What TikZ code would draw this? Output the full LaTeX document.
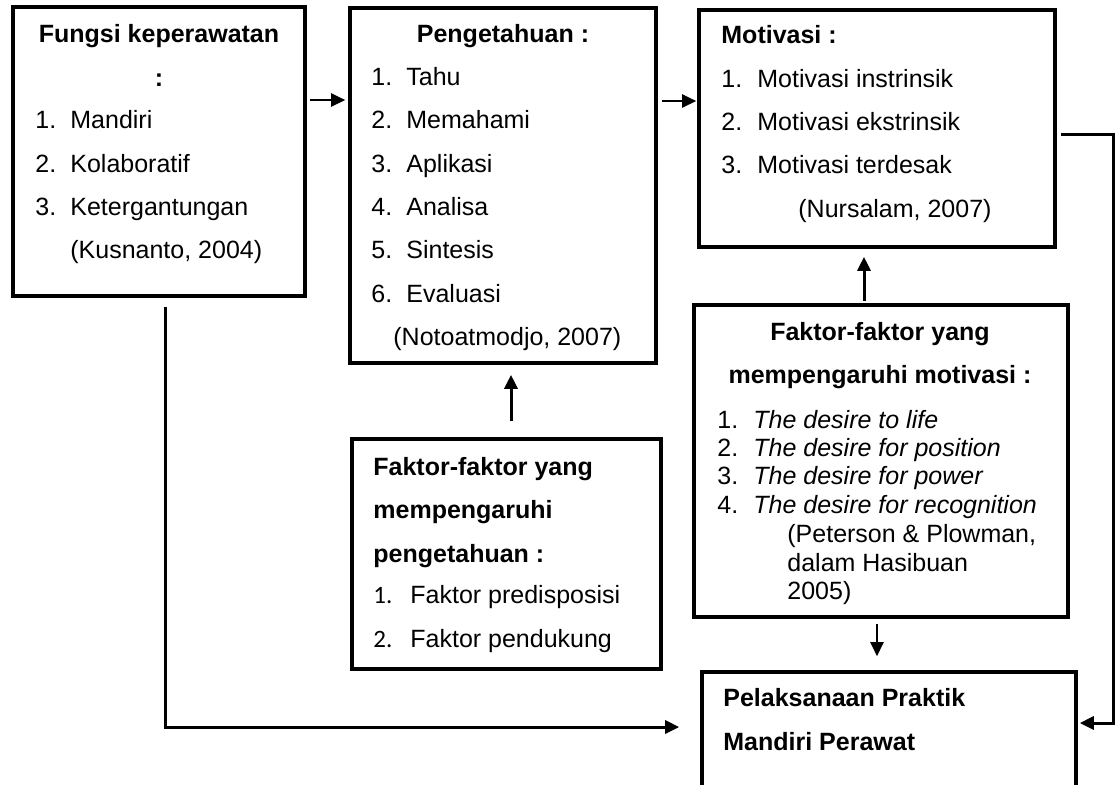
\documentclass[tikz,border=0pt]{standalone}
\usepackage{fontspec}
\setmainfont{Liberation Sans}
\newfontfamily\calfont{Carlito}
\usetikzlibrary{arrows.meta,fit}
\begin{document}
\begin{tikzpicture}[x=0.5pt,y=-0.5pt,
  box/.style={draw,line width=1.8pt,inner sep=0pt},
  arr/.style={line width=1.5pt,-{Triangle[length=7pt,width=6.5pt]}},
  tarr/.style={line width=1.2pt,-{Triangle[length=7pt,width=6.5pt]}},
  txt/.style={inner sep=0pt,anchor=base west,font=\fontsize{12.5pt}{15pt}\selectfont},
  btxt/.style={txt,font=\fontsize{12.5pt}{15pt}\selectfont\bfseries},
  ctxt/.style={inner sep=0pt,anchor=base,font=\fontsize{12.5pt}{15pt}\selectfont\bfseries},
  itxt/.style={txt,font=\fontsize{12.5pt}{15pt}\selectfont\itshape},
  ntxt/.style={txt,font=\fontsize{12.5pt}{15pt}\selectfont\calfont}]
\useasboundingbox (0,0) rectangle (1116,784);
\clip (0,0) rectangle (1116,784);
% boxes
\node[box,fit={(13,7) (305,296)}] (b1) {};
\node[box,fit={(350,8) (656,363)}] (b2) {};
\node[box,fit={(699,10) (1055,247)}] (b3) {};
\node[box,fit={(694,305) (1068,617)}] (b4) {};
\node[box,fit={(702,672) (1076,800)}] (b5) {};
\node[box,fit={(352,439) (661,669)}] (b6) {};
% box 1 text
\node[ctxt] (t1a) at (159,42) {Fungsi keperawatan};
\node[ctxt] (t1b) at (159,86) {:};
\node[txt] (n1a) at (35,128) {1.}; \node[txt] (t1c) at (70,128) {Mandiri};
\node[txt] (n1b) at (35,172) {2.}; \node[txt] (t1d) at (70,172) {Kolaboratif};
\node[txt] (n1c) at (35,215) {3.}; \node[txt] (t1e) at (70,215) {Ketergantungan};
\node[txt] (t1f) at (70,258) {(Kusnanto, 2004)};
% box 2 text
\node[ctxt] (t2a) at (503,42) {Pengetahuan :};
\node[txt] (n2a) at (371,85) {1.};  \node[txt] (t2b) at (406,85) {Tahu};
\node[txt] (n2b) at (371,128) {2.}; \node[txt] (t2c) at (406,128) {Memahami};
\node[txt] (n2c) at (371,172) {3.}; \node[txt] (t2d) at (406,172) {Aplikasi};
\node[txt] (n2d) at (371,215) {4.}; \node[txt] (t2e) at (406,215) {Analisa};
\node[txt] (n2e) at (371,258) {5.}; \node[txt] (t2f) at (406,258) {Sintesis};
\node[txt] (n2f) at (371,302) {6.}; \node[txt] (t2g) at (406,302) {Evaluasi};
\node[txt] (t2h) at (393,345) {(Notoatmodjo, 2007)};
% box 3 text
\node[btxt] (t3a) at (721,43) {Motivasi :};
\node[txt] (n3a) at (721,87) {1.};  \node[txt] (t3b) at (757,87) {Motivasi instrinsik};
\node[txt] (n3b) at (721,130) {2.}; \node[txt] (t3c) at (757,130) {Motivasi ekstrinsik};
\node[txt] (n3c) at (721,173) {3.}; \node[txt] (t3d) at (757,173) {Motivasi terdesak};
\node[txt] (t3e) at (798,217) {(Nursalam, 2007)};
% box 4 text
\node[ctxt] (t4a) at (880,340) {Faktor-faktor yang};
\node[ctxt] (t4b) at (880,383) {mempengaruhi motivasi :};
\node[txt] (n4a) at (717,428) {1.}; \node[itxt] (t4c) at (753,428) {The desire to life};
\node[txt] (n4b) at (717,456) {2.}; \node[itxt] (t4d) at (753,456) {The desire for position};
\node[txt] (n4c) at (717,484) {3.}; \node[itxt] (t4e) at (753,484) {The desire for power};
\node[txt] (n4d) at (717,513) {4.}; \node[itxt] (t4f) at (753,513) {The desire for recognition};
\node[txt] (t4g) at (787,542) {(Peterson \& Plowman,};
\node[txt] (t4h) at (787,571) {dalam Hasibuan};
\node[txt] (t4i) at (787,599) {2005)};
% box 5 text
\node[btxt] (t5a) at (723,706) {Pelaksanaan Praktik};
\node[btxt] (t5b) at (723,750) {Mandiri Perawat};
% box 6 text
\node[btxt] (t6a) at (373,475) {Faktor-faktor yang};
\node[btxt] (t6b) at (373,518) {mempengaruhi};
\node[btxt] (t6c) at (373,562) {pengetahuan :};
\node[ntxt] (n6a) at (373,603) {1.}; \node[txt] (t6d) at (410,603) {Faktor predisposisi};
\node[ntxt] (n6b) at (373,647) {2.}; \node[txt] (t6e) at (410,647) {Faktor pendukung};
% helper coordinates
\coordinate (ya) at (0,100);
\coordinate (yb) at (0,101);
\coordinate (yc) at (0,134);
\coordinate (yd) at (0,727);
\coordinate (yr) at (0,723);
\coordinate (xa) at (511,0);
\coordinate (xb) at (864,0);
\coordinate (xc) at (877,0);
\coordinate (xd) at (165,0);
\coordinate (xr) at (1113,0);
% connectors
\draw[tarr,shorten <=1.5pt,shorten >=1.5pt] (b1.east |- ya) -- (b2.west |- ya);
\draw[tarr,shorten <=2pt,shorten >=0.5pt] (b2.east |- yb) -- (b3.west |- yb);
\draw[arr,shorten <=8pt,shorten >=5pt] (b6.north -| xa) -- (b2.south -| xa);
\draw[arr,shorten <=1pt,shorten >=4pt] (b4.north -| xb) -- (b3.south -| xb);
\draw[tarr,shorten <=2.5pt,shorten >=7pt] (b4.south -| xc) -- (b5.north -| xc);
\draw[arr,shorten <=2pt,shorten >=1pt] (b3.east |- yc) -- (xr |- yc) -- (xr |- yr) -- (b5.east |- yr);
\draw[arr,shorten <=4.5pt,shorten >=10.5pt] (b1.south -| xd) -- (xd |- yd) -- (b5.west |- yd);
\end{tikzpicture}
\end{document}
